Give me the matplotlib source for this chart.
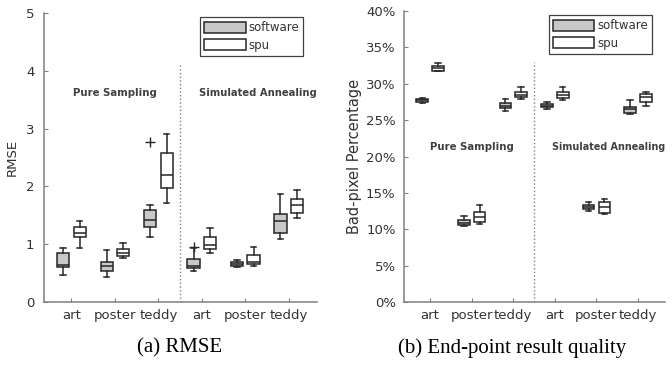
import matplotlib
matplotlib.use("Agg")
import matplotlib.pyplot as plt
from matplotlib.patches import Patch

# groups: Pure Sampling (art, poster, teddy), Simulated Annealing (art, poster, teddy)
categories = ["art", "poster", "teddy", "art", "poster", "teddy"]

# box stats per box: (whislo, q1, med, q3, whishi)
rmse_software = [(0.46, 0.60, 0.645, 0.85, 0.93),
                 (0.43, 0.53, 0.62, 0.70, 0.905),
                 (1.12, 1.30, 1.42, 1.59, 1.68),
                 (0.53, 0.59, 0.63, 0.74, 0.94),
                 (0.60, 0.615, 0.66, 0.70, 0.72),
                 (1.09, 1.19, 1.41, 1.52, 1.87)]
rmse_spu = [(0.93, 1.12, 1.19, 1.29, 1.40),
            (0.76, 0.79, 0.84, 0.92, 1.02),
            (1.71, 1.98, 2.19, 2.57, 2.91),
            (0.85, 0.92, 0.99, 1.12, 1.28),
            (0.63, 0.66, 0.70, 0.81, 0.96),
            (1.45, 1.54, 1.67, 1.78, 1.93)]
rmse_software_fliers = [[], [], [2.77], [0.95], [], []]
rmse_spu_fliers = [[], [], [], [], [], []]

bad_software = [(27.3, 27.55, 27.7, 27.9, 28.1),
                (10.5, 10.6, 10.9, 11.3, 11.85),
                (26.3, 26.7, 27.0, 27.3, 27.9),
                (26.5, 26.8, 26.95, 27.2, 27.5),
                (12.45, 12.8, 13.1, 13.4, 13.7),
                (25.9, 26.0, 26.5, 26.8, 27.8)]
bad_spu = [(31.7, 31.8, 32.2, 32.5, 32.8),
           (10.7, 11.0, 11.67, 12.35, 13.35),
           (27.9, 28.2, 28.5, 28.8, 29.6),
           (27.7, 28.0, 28.5, 28.8, 29.6),
           (12.1, 12.2, 13.0, 13.7, 14.2),
           (26.95, 27.55, 28.2, 28.55, 28.8)]

GRAY = "#808080"
DARK = "#262626"
TXT = "#333333"
FILL = "#c8c8c8"


def stats(rows, fliers=None):
    out = []
    for i, (lo, q1, med, q3, hi) in enumerate(rows):
        out.append(dict(whislo=lo, q1=q1, med=med, q3=q3, whishi=hi,
                        fliers=fliers[i] if fliers else []))
    return out


def draw(ax, soft, spu, soft_fl=None, spu_fl=None):
    pos = [i + 1 for i in range(len(categories))]
    common = dict(widths=0.28, capwidths=0.13, patch_artist=True, showfliers=True,
                  whiskerprops=dict(color=DARK, lw=1.1, linestyle="-"),
                  capprops=dict(color=DARK, lw=1.1),
                  medianprops=dict(color=DARK, lw=1.1),
                  flierprops=dict(marker="+", markeredgecolor=DARK, markersize=7, mew=1.0))
    ax.bxp(stats(soft, soft_fl), positions=[p - 0.19 for p in pos],
           boxprops=dict(facecolor=FILL, edgecolor=DARK, lw=1.1), manage_ticks=False, **common)
    ax.bxp(stats(spu, spu_fl), positions=[p + 0.19 for p in pos],
           boxprops=dict(facecolor="white", edgecolor=DARK, lw=1.1), manage_ticks=False, **common)
    ax.set_xticks(pos)
    ax.set_xticklabels(categories)
    ax.set_xlim(0.37, 6.65)
    for s in ["top", "right"]:
        ax.spines[s].set_visible(False)
    for s in ["left", "bottom"]:
        ax.spines[s].set_color(GRAY)
        ax.spines[s].set_linewidth(1.1)
    ax.tick_params(direction="in", length=3, color=GRAY, labelcolor=TXT, labelsize=9.5)
    ax.tick_params(axis="x", pad=5)
    leg = ax.legend(handles=[Patch(facecolor=FILL, edgecolor=DARK, lw=1.1, label="software"),
                             Patch(facecolor="white", edgecolor=DARK, lw=1.1, label="spu")],
                    loc="upper right", bbox_to_anchor=(0.95, 0.985), borderaxespad=0,
                    fancybox=False, framealpha=1, edgecolor="#404040", fontsize=8.5,
                    handlelength=3.5, handleheight=1.1, labelspacing=0.35,
                    handletextpad=0.25, borderpad=0.35)
    leg.get_frame().set_linewidth(0.9)
    for t in leg.get_texts():
        t.set_color(TXT)


fig = plt.figure(figsize=(6.72, 3.65), dpi=100)
ax1 = fig.add_axes([44 / 672, 63 / 365, 273 / 672, 289 / 365])
ax2 = fig.add_axes([404 / 672, 63 / 365, 261 / 672, 291 / 365])

draw(ax1, rmse_software, rmse_spu, rmse_software_fliers, rmse_spu_fliers)
ax1.set_ylim(0, 5)
ax1.set_yticks([0, 1, 2, 3, 4, 5])
ax1.tick_params(axis="y", pad=7)
ax1.set_ylabel("RMSE", fontsize=9.5, color=TXT, labelpad=5)
ax1.plot([3.5, 3.5], [0, 4.13], linestyle=":", color=GRAY, lw=1.0)
ax1.text(2, 3.62, "Pure Sampling", ha="center", va="center", fontsize=7.3,
         fontweight="bold", color="#404040")
ax1.text(3.93, 3.62, "Simulated Annealing", ha="left", va="center", fontsize=7.2,
         fontweight="bold", color="#404040")

draw(ax2, bad_software, bad_spu)
ax2.set_ylim(0, 40)
ax2.set_yticks(range(0, 41, 5))
ax2.set_yticklabels([f"{v}%" for v in range(0, 41, 5)])
ax2.tick_params(axis="y", pad=6)
ax2.set_ylabel("Bad-pixel Percentage", fontsize=10.5, color=TXT, labelpad=3)
ax2.plot([3.5, 3.5], [0, 33], linestyle=":", color=GRAY, lw=1.0)
ax2.text(2, 21.3, "Pure Sampling", ha="center", va="center", fontsize=7.3,
         fontweight="bold", color="#404040")
ax2.text(3.92, 21.3, "Simulated Annealing", ha="left", va="center", fontsize=6.9,
         fontweight="bold", color="#404040", clip_on=False)

fig.text(180 / 672, 1 - 348 / 365, "(a) RMSE", ha="center", va="center",
         fontsize=15, family="Liberation Serif")
fig.text(512 / 672, 1 - 348 / 365, "(b) End-point result quality", ha="center", va="center",
         fontsize=15, family="Liberation Serif")

fig.savefig("out.png", dpi=100)
